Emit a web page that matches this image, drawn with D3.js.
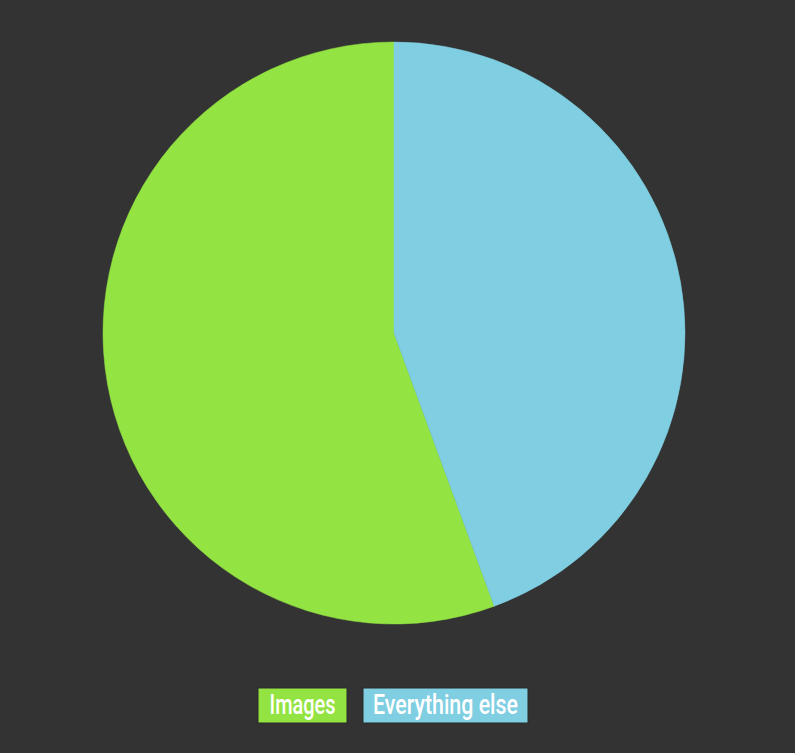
<!DOCTYPE html>
<html><head><meta charset="utf-8">
<script src="https://cdn.jsdelivr.net/npm/d3@7"></script>
<style>html,body{margin:0;padding:0;background:#333333;}</style>
</head><body>
<svg id="chart" width="795" height="753"></svg>
<script>
const categories = ["Images", "Everything else"];
const values = [55.6, 44.4];
const colors = ["#93e343", "#7fcee1"];

const svg = d3.select("#chart");
svg.append("rect").attr("width", 795).attr("height", 753).attr("fill", "#333333");

const cx = 394, cy = 333, r = 291;
const data = categories.map((c, i) => ({name: c, value: values[i], color: colors[i]}));

const pie = d3.pie().value(d => d.value).sort(null).startAngle(0).endAngle(-2 * Math.PI);
const arc = d3.arc().innerRadius(0).outerRadius(r);

svg.append("g").attr("transform", `translate(${cx},${cy})`)
  .selectAll("path").data(pie(data)).join("path")
  .attr("d", arc).attr("fill", d => d.data.color)
  .attr("stroke", d => d.data.color).attr("stroke-width", 0.5);

// legend
const legend = svg.append("g");
const fontFam = "Roboto, 'DejaVu Sans Condensed', sans-serif";
const boxes = [{x: 258, w: 89, tw: 66}, {x: 363, w: 165, tw: 145}];
data.forEach((d, i) => {
  const g = legend.append("g");
  g.append("rect").attr("x", boxes[i].x).attr("y", 688).attr("width", boxes[i].w).attr("height", 35)
    .attr("fill", d.color).attr("stroke", "#2a2a2a").attr("stroke-width", 1);
  g.append("text").attr("x", boxes[i].x + boxes[i].w / 2).attr("y", 714)
    .attr("text-anchor", "middle").attr("fill", "#ffffff")
    .attr("textLength", boxes[i].tw).attr("lengthAdjust", "spacingAndGlyphs")
    .style("font-family", fontFam).style("font-size", "28px").style("font-weight", 500)
    .text(d.name);
});
</script>
</body></html>
